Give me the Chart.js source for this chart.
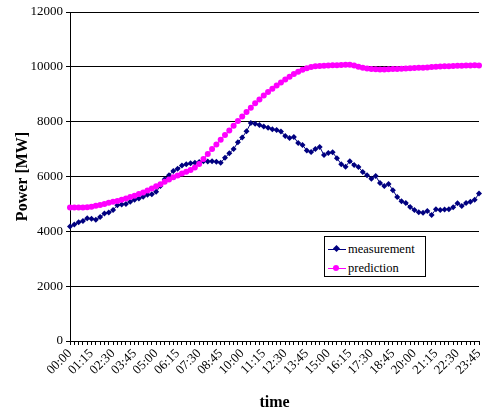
<!DOCTYPE html>
<html>
<head>
<meta charset="utf-8">
<script src="https://cdn.jsdelivr.net/npm/chart.js@4.4.0/dist/chart.umd.min.js"></script>
<style>
  html, body { margin: 0; padding: 0; background: #fff; }
  #wrap { position: relative; width: 483px; height: 412px; }
  #legend {
    position: absolute; left: 324px; top: 236px; width: 102px; height: 41px;
    border: 1px solid #000; background: #fff; box-sizing: border-box;
    font-family: 'Liberation Serif', 'Times New Roman', serif; font-size: 12.5px; color: #000;
  }
  .row { position: absolute; left: 0; height: 14px; line-height: 14px; }
  .row .ln { position: absolute; left: 3px; top: 7px; width: 18px; height: 1px; }
  .row .mk { position: absolute; }
  .row span { position: absolute; left: 23px; top: 0; white-space: nowrap; }
</style>
</head>
<body>
<div id="wrap">
  <canvas id="chart" width="483" height="412"></canvas>
  <div id="legend">
    <div class="row" style="top:5px">
      <div class="ln" style="background:#000080"></div>
      <div class="mk" style="left:9px;top:4px;width:5px;height:5px;background:#000080;transform:rotate(45deg)"></div>
      <span>measurement</span>
    </div>
    <div class="row" style="top:24px">
      <div class="ln" style="background:#ff00ff"></div>
      <div class="mk" style="left:8px;top:4px;width:6px;height:6px;background:#ff00ff;border-radius:50%"></div>
      <span>prediction</span>
    </div>
  </div>
</div>
<script>
    // 15-minute values over one day
    const measurement = [
        4180, 4250, 4330, 4380, 4480, 4460, 4420, 4520, 4650, 4690,
        4780, 4950, 4980, 5000, 5080, 5150, 5200, 5260, 5330, 5350,
        5440, 5650, 5900, 6050, 6200, 6280, 6400, 6450, 6480, 6500,
        6530, 6560, 6550, 6560, 6540, 6500, 6680, 6850, 7000, 7250,
        7420, 7650, 7950, 7920, 7880, 7820, 7780, 7720, 7700, 7640,
        7480, 7400, 7440, 7220, 7150, 6950, 6890, 7000, 7080, 6780,
        6860, 6880, 6670, 6450, 6360, 6560, 6420, 6350, 6160, 6050,
        5920, 6020, 5760, 5650, 5730, 5500, 5250, 5100, 5030, 4890,
        4780, 4700, 4680, 4740, 4600, 4810, 4780, 4800, 4810, 4880,
        5020, 4920, 5030, 5080, 5150, 5380
    ];
    const prediction = [
        4870, 4870, 4870, 4870, 4880, 4900, 4930, 4960, 5000, 5040,
        5080, 5110, 5150, 5200, 5250, 5300, 5360, 5420, 5490, 5560,
        5640, 5720, 5810, 5890, 5970, 6040, 6110, 6170, 6240, 6330,
        6460, 6640, 6820, 7000, 7170, 7340, 7510, 7680, 7850, 8020,
        8190, 8350, 8510, 8670, 8810, 8950, 9080, 9200, 9320, 9430,
        9540, 9640, 9740, 9820, 9890, 9950, 9990, 10020, 10030, 10040,
        10050, 10060, 10060, 10070, 10080, 10080, 10050, 10000, 9970, 9940,
        9920, 9910, 9900, 9900, 9910, 9920, 9920, 9930, 9940, 9950,
        9960, 9970, 9970, 9980, 9990, 10000, 10010, 10020, 10020, 10030,
        10040, 10040, 10050, 10050, 10060, 10050
    ];
    const shownLabels = ['00:00', '01:15', '02:30', '03:45', '05:00', '06:15', '07:30', '08:45', '10:00', '11:15',
        '12:30', '13:45', '15:00', '16:15', '17:30', '18:45', '20:00', '21:15', '22:30', '23:45'];
    const yTicks = [0, 2000, 4000, 6000, 8000, 10000, 12000];

    // category names hh:mm for each quarter hour
    const times = measurement.map((v, i) => {
        const h = Math.floor(i / 4), m = (i % 4) * 15;
        return String(h).padStart(2, '0') + ':' + String(m).padStart(2, '0');
    });

    const serif = "'Liberation Serif', 'Times New Roman', serif";

    const ctx = document.getElementById('chart').getContext('2d');
    new Chart(ctx, {
        type: 'line',
        data: {
            labels: times,
            datasets: [{
                label: 'measurement',
                data: measurement,
                borderColor: '#000080',
                backgroundColor: '#000080',
                borderWidth: 1,
                pointStyle: 'rectRot',
                pointRadius: 3,
                pointBorderWidth: 0,
                tension: 0,
                order: 1
            }, {
                label: 'prediction',
                data: prediction,
                borderColor: '#ff00ff',
                backgroundColor: '#ff00ff',
                borderWidth: 1,
                pointStyle: 'circle',
                pointRadius: 3,
                pointBorderWidth: 0,
                tension: 0,
                order: 0
            }]
        },
        options: {
            responsive: false,
            animation: false,
            layout: { padding: { top: 12, right: 2, left: 0, bottom: 0 } },
            plugins: {
                legend: { display: false },
                tooltip: { enabled: false }
            },
            scales: {
                x: {
                    offset: false,
                    afterFit: (scale) => {
                        scale.height = 71;
                        scale.paddingRight = 0;
                        scale.paddingLeft = 0;
                    },
                    border: { color: '#000', width: 1 },
                    grid: { drawOnChartArea: false, drawTicks: true, tickLength: 4, color: '#000' },
                    ticks: {
                        autoSkip: false,
                        minRotation: 45,
                        maxRotation: 45,
                        padding: 1,
                        color: '#000',
                        font: { family: serif, size: 13 },
                        callback: function(value, index) {
                            const lab = times[index];
                            return shownLabels.includes(lab) ? lab : '';
                        }
                    },
                    title: {
                        display: true,
                        text: 'time',
                        color: '#000',
                        font: { family: serif, size: 16, weight: 'bold' },
                        padding: { top: 4, bottom: 0 }
                    }
                },
                y: {
                    min: 0,
                    max: 12000,
                    afterFit: (scale) => { scale.width = 70; },
                    afterBuildTicks: (scale) => { scale.ticks = yTicks.map(v => ({ value: v })); },
                    border: { color: '#000', width: 1 },
                    grid: { color: '#000', lineWidth: 1, tickLength: 4 },
                    ticks: {
                        padding: 3,
                        color: '#000',
                        font: { family: serif, size: 13 },
                        callback: (value) => String(value)
                    },
                    title: {
                        display: true,
                        text: 'Power [MW]',
                        color: '#000',
                        font: { family: serif, size: 16, weight: 'bold' },
                        padding: { top: 13, bottom: 0 }
                    }
                }
            }
        }
    });
</script>
</body>
</html>
